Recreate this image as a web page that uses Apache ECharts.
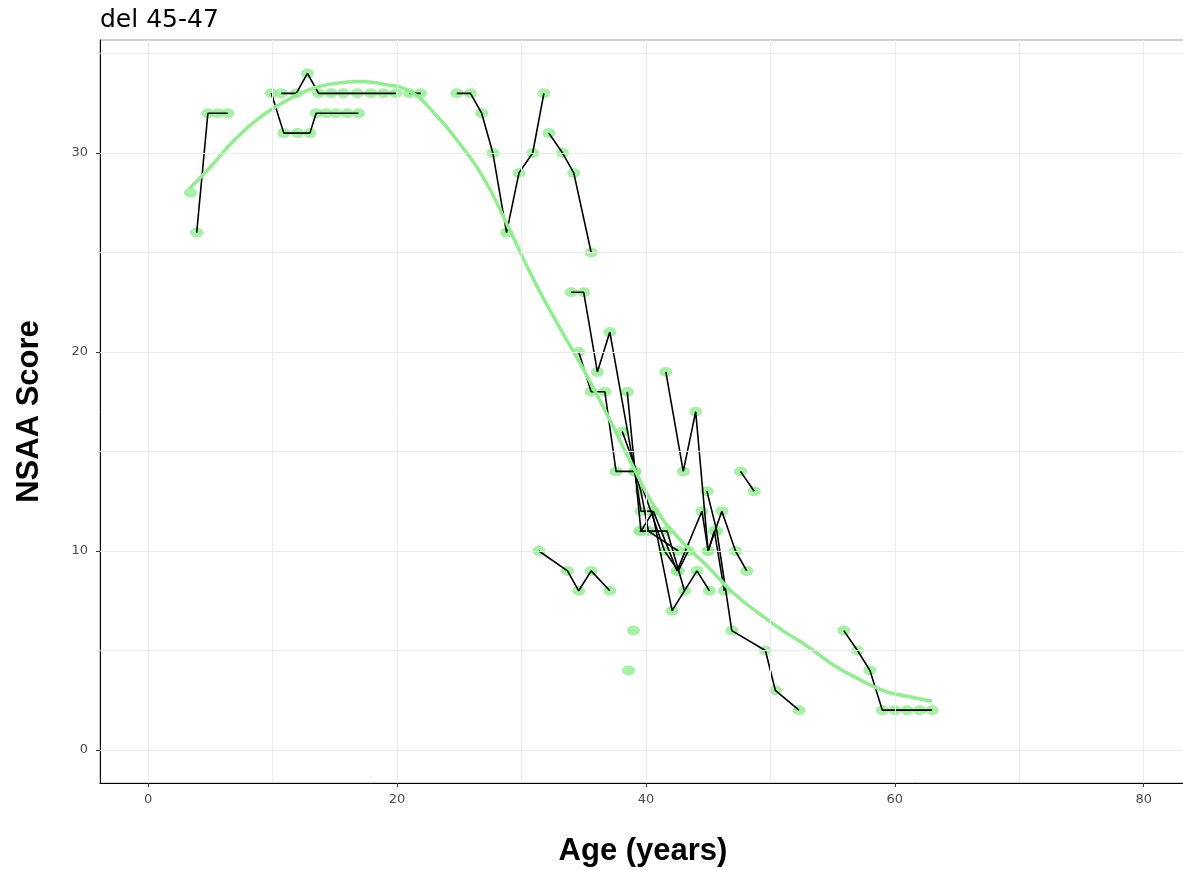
<!DOCTYPE html>
<html>
<head>
<meta charset="utf-8">
<script src="https://cdn.jsdelivr.net/npm/echarts@6/dist/echarts.min.js"></script>
<style>html,body{margin:0;padding:0;background:#fff}#c{width:1183px;height:870px}</style>
</head>
<body>
<div id="c"></div>
<script>
// ---- data: each subject's visits (age in years, NSAA score) ----
const s01Age = [3.4];                    const s01Score = [28];
const s02Age = [3.9, 4.8, 5.6, 6.4];     const s02Score = [26, 32, 32, 32];
const s03Age = [9.9, 10.9, 12.0, 13.0, 13.5, 14.3, 15.1, 16.0, 16.9];
const s03Score = [33, 31, 31, 31, 32, 32, 32, 32, 32];
const s04Age = [10.7, 11.9, 12.8, 13.7, 14.7, 15.7, 16.8, 17.9, 18.9, 19.9];
const s04Score = [33, 33, 34, 33, 33, 33, 33, 33, 33, 33];
const s05Age = [21.0, 21.9];             const s05Score = [33, 33];
const s06Age = [24.8, 25.9, 26.8, 27.7, 28.8, 29.8, 30.9, 31.8];
const s06Score = [33, 33, 32, 30, 26, 29, 30, 33];
const s07Age = [32.2, 33.3, 34.2, 35.6]; const s07Score = [31, 30, 29, 25];
const s08Age = [34.0, 35.0, 36.1, 37.1, 39.1, 39.6, 40.2, 42.6];
const s08Score = [23, 23, 19, 21, 14, 13, 11, 10];
const s09Age = [34.6, 35.6, 36.7, 37.6, 39.1, 39.6, 40.5, 42.1, 44.1, 45.1];
const s09Score = [20, 18, 18, 14, 14, 12, 12, 7, 9, 8];
const s10Age = [38.5, 39.6, 40.6, 42.5, 44.5, 45.0, 46.1, 47.2, 48.1];
const s10Score = [18, 11, 12, 9, 12, 10, 12, 10, 9];
const s11Age = [41.6, 43.0, 44.0, 45.0, 45.5, 46.3];
const s11Score = [19, 14, 17, 10, 11, 8];
const s12Age = [44.9, 45.7, 46.9, 49.6, 50.4, 52.3];
const s12Score = [13, 11, 6, 5, 3, 2];
const s13Age = [38.1, 40.4, 41.5, 42.6, 43.4];
const s13Score = [16, 12, 10, 9, 10];
const s14Age = [39.5, 40.2, 41.7, 43.1];  const s14Score = [11, 11, 11, 8];
const s15Age = [39.0];                    const s15Score = [6];
const s16Age = [38.6];                    const s16Score = [4];
const s17Age = [31.4, 33.7, 34.6, 35.6, 37.1]; const s17Score = [10, 9, 8, 9, 8];
const s18Age = [47.6, 48.7];              const s18Score = [14, 13];
const s19Age = [55.9, 57.0, 58.0, 59.0, 60.0, 61.0, 62.0, 63.0];
const s19Score = [6, 5, 4, 2, 2, 2, 2, 2];

// ---- smoothed population trend ----
const fitAge = [3.3, 5, 7, 9, 11, 13, 15, 17, 19, 21, 23, 25, 27, 29, 31, 33, 35, 37, 39, 41, 43, 45, 47, 49, 51, 53, 55, 57, 59, 61, 63];
const fitScore = [28.2, 29.3, 30.7, 31.8, 32.6, 33.2, 33.5, 33.6, 33.45, 33.1, 32.0, 30.5, 28.7, 26.2, 23.6, 21.3, 19.1, 16.7, 14.2, 11.9, 10.4, 9.2, 7.9, 6.9, 6.0, 5.2, 4.3, 3.6, 3.0, 2.7, 2.45];

// ---- axis ticks and grid ----
const xTicks = [0, 20, 40, 60, 80];
const yTicks = [0, 10, 20, 30];
const xGrid = [0, 10, 20, 30, 40, 50, 60, 70, 80];
const yGrid = [0, 5, 10, 15, 20, 25, 30, 35];

const subjects = [
  [s01Age, s01Score], [s02Age, s02Score], [s03Age, s03Score], [s04Age, s04Score],
  [s05Age, s05Score], [s06Age, s06Score], [s07Age, s07Score], [s08Age, s08Score],
  [s09Age, s09Score], [s10Age, s10Score], [s11Age, s11Score], [s12Age, s12Score],
  [s13Age, s13Score], [s14Age, s14Score], [s15Age, s15Score], [s16Age, s16Score],
  [s17Age, s17Score], [s18Age, s18Score], [s19Age, s19Score]
];
const zip = (a, b) => a.map((v, i) => [v, b[i]]);

const series = [];
series.push({
  type: 'scatter', data: [], silent: true, z: 0,
  markLine: {
    silent: true, symbol: 'none', animation: false,
    label: { show: false },
    lineStyle: { color: '#EBEBEB', width: 1, type: 'solid' },
    data: xGrid.map(v => ({ xAxis: v })).concat(yGrid.map(v => ({ yAxis: v })))
  }
});
const allPts = [];
subjects.forEach(s => allPts.push(...zip(s[0], s[1])));
series.push({
  type: 'scatter', data: allPts, symbol: 'circle', symbolSize: [13, 10],
  itemStyle: { color: '#90EE90' }, z: 2, silent: true
});
subjects.forEach(s => {
  if (s[0].length > 1) {
    series.push({
      type: 'line', data: zip(s[0], s[1]), showSymbol: false, symbol: 'none',
      lineStyle: { color: '#000', width: 1.6 }, z: 3, silent: true
    });
  }
});
series.push({
  type: 'line', data: zip(fitAge, fitScore), smooth: true, showSymbol: false, symbol: 'none',
  lineStyle: { color: '#90EE90', width: 3.5 }, z: 4, silent: true
});

const chart = echarts.init(document.getElementById('c'), null, { renderer: 'canvas' });
chart.setOption({
  animation: false,
  backgroundColor: '#fff',
  title: {
    text: 'del 45-47', left: 95, top: 3,
    textStyle: { fontFamily: 'DejaVu Sans', fontSize: 25, fontWeight: 'normal', color: '#000' }
  },
  grid: { left: 100, top: 40, right: -3, bottom: 87, show: true, borderColor: '#A0A0A0', borderWidth: 1,
          backgroundColor: 'transparent', outerBoundsMode: 'none', containLabel: false },
  xAxis: {
    type: 'value', min: -3.87, max: 83.4,
    name: 'Age (years)', nameLocation: 'middle', nameGap: 53,
    nameTextStyle: { fontFamily: 'Liberation Sans', fontSize: 31, fontWeight: 'bold', color: '#000' },
    axisLine: { show: true, onZero: false, lineStyle: { color: '#000', width: 1 } },
    axisTick: { show: true, customValues: xTicks, length: 4, lineStyle: { color: '#333' } },
    axisLabel: { customValues: xTicks, color: '#4D4D4D', fontSize: 13, fontFamily: 'DejaVu Sans', margin: 10 },
    splitLine: { show: false }
  },
  yAxis: {
    type: 'value', min: -1.66, max: 35.68,
    name: 'NSAA Score', nameLocation: 'middle', nameGap: 55,
    nameTextStyle: { fontFamily: 'Liberation Sans', fontSize: 31, fontWeight: 'bold', color: '#000' },
    axisLine: { show: true, onZero: false, lineStyle: { color: '#000', width: 1 } },
    axisTick: { show: true, customValues: yTicks, length: 4, lineStyle: { color: '#333' } },
    axisLabel: { customValues: yTicks, color: '#4D4D4D', fontSize: 13, fontFamily: 'DejaVu Sans', margin: 12 },
    splitLine: { show: false }
  },
  series: series
});
</script>
</body>
</html>
